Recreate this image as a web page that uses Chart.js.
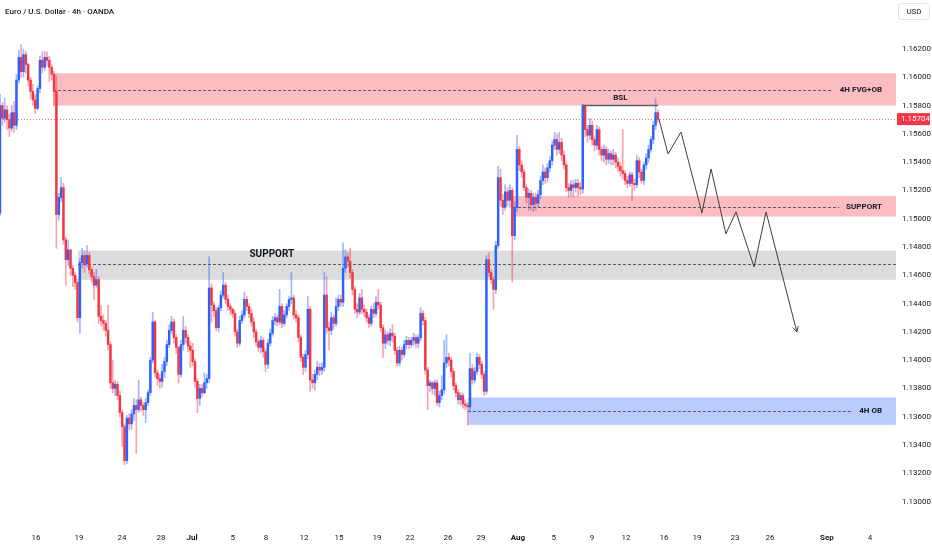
<!DOCTYPE html>
<html>
<head>
<meta charset="utf-8">
<title>EURUSD 4h</title>
<script src="https://cdn.jsdelivr.net/npm/chart.js@4.4.1/dist/chart.umd.min.js"></script>
<style>
    html, body { margin: 0; padding: 0; background: #fff; }
    canvas { display: block; }
</style>
</head>
<body>
<canvas id="chart" width="932" height="550"></canvas>
<script>
// 4h candles, index 0 = first candle on screen
let firstOpen = 1.1504;
let closes = [
    1.1580, 1.1571, 1.1577, 1.1570, 1.1564, 1.1575, 1.1566, 1.1598, 1.1614, 1.1604,
    1.1616, 1.1609, 1.1598, 1.1590, 1.1584, 1.1578, 1.1592, 1.1612, 1.1607, 1.1614,
    1.1612, 1.1607, 1.1602, 1.1590, 1.1503, 1.1515, 1.1522, 1.1485, 1.1471, 1.1478,
    1.1465, 1.1460, 1.1455, 1.1430, 1.1469, 1.1474, 1.1468, 1.1474, 1.1464, 1.1459,
    1.1453, 1.1457, 1.1431, 1.1428, 1.1426, 1.1421, 1.1411, 1.1384, 1.1380, 1.1383,
    1.1375, 1.1363, 1.1353, 1.1329, 1.1359, 1.1355, 1.1362, 1.1368, 1.1365, 1.1372,
    1.1368, 1.1365, 1.1370, 1.1377, 1.1400, 1.1427, 1.1391, 1.1387, 1.1385, 1.1392,
    1.1399, 1.1411, 1.1421, 1.1427, 1.1416, 1.1409, 1.1390, 1.1411, 1.1421, 1.1416,
    1.1410, 1.1407, 1.1399, 1.1385, 1.1373, 1.1380, 1.1377, 1.1384, 1.1387, 1.1451,
    1.1439, 1.1435, 1.1423, 1.1437, 1.1446, 1.1453, 1.1443, 1.1438, 1.1436, 1.1433,
    1.1420, 1.1412, 1.1428, 1.1432, 1.1443, 1.1438, 1.1433, 1.1427, 1.1420, 1.1413,
    1.1409, 1.1414, 1.1406, 1.1397, 1.1412, 1.1419, 1.1428, 1.1430, 1.1427, 1.1438,
    1.1426, 1.1432, 1.1438, 1.1443, 1.1444, 1.1432, 1.1430, 1.1416, 1.1402, 1.1395,
    1.1404, 1.1436, 1.1386, 1.1384, 1.1390, 1.1395, 1.1393, 1.1395, 1.1446, 1.1423,
    1.1421, 1.1430, 1.1426, 1.1438, 1.1443, 1.1441, 1.1465, 1.1473, 1.1470, 1.1462,
    1.1450, 1.1436, 1.1434, 1.1444, 1.1436, 1.1434, 1.1430, 1.1426, 1.1436, 1.1433,
    1.1441, 1.1439, 1.1423, 1.1412, 1.1418, 1.1414, 1.1419, 1.1417, 1.1407, 1.1398,
    1.1407, 1.1404, 1.1411, 1.1414, 1.1411, 1.1414, 1.1416, 1.1412, 1.1416, 1.1433,
    1.1428, 1.1393, 1.1382, 1.1384, 1.1380, 1.1384, 1.1370, 1.1375, 1.1379, 1.1398,
    1.1402, 1.1400, 1.1392, 1.1382, 1.1377, 1.1372, 1.1375, 1.1369, 1.1368, 1.1367,
    1.1394, 1.1386, 1.1392, 1.1402, 1.1397, 1.1390, 1.1378, 1.1471, 1.1462, 1.1457,
    1.1450, 1.1481, 1.1529, 1.1513, 1.1508, 1.1519, 1.1513, 1.1520, 1.1488, 1.1508,
    1.1549, 1.1538, 1.1533, 1.1522, 1.1515, 1.1518, 1.1510, 1.1515, 1.1511, 1.1517,
    1.1527, 1.1533, 1.1529, 1.1536, 1.1541, 1.1552, 1.1556, 1.1549, 1.1554, 1.1545,
    1.1538, 1.1522, 1.1520, 1.1524, 1.1522, 1.1525, 1.1522, 1.1521, 1.1580, 1.1563,
    1.1559, 1.1566, 1.1556, 1.1552, 1.1563, 1.1549, 1.1545, 1.1549, 1.1542, 1.1546,
    1.1542, 1.1545, 1.1540, 1.1537, 1.1534, 1.1532, 1.1527, 1.1525, 1.1531, 1.1525,
    1.1524, 1.1541, 1.1533, 1.1527, 1.1538, 1.1543, 1.1549, 1.1556, 1.1566, 1.1575,
    1.15704
];
let highs = [
    1.1588, 1.1582, 1.1585, 1.1580, 1.1574, 1.1580, 1.1583, 1.1602, 1.1619, 1.1623,
    1.1620, 1.1618, 1.1610, 1.1600, 1.1595, 1.1588, 1.1594, 1.1615, 1.1618, 1.1618,
    1.1618, 1.1615, 1.1609, 1.1604, 1.1601, 1.1518, 1.1529, 1.1525, 1.1487, 1.1485,
    1.1478, 1.1467, 1.1462, 1.1457, 1.1472, 1.1479, 1.1477, 1.1481, 1.1476, 1.1466,
    1.1462, 1.1464, 1.1459, 1.1439, 1.1432, 1.1428, 1.1439, 1.1413, 1.1400, 1.1386,
    1.1385, 1.1378, 1.1365, 1.1355, 1.1361, 1.1362, 1.1365, 1.1373, 1.1372, 1.1386,
    1.1374, 1.1370, 1.1373, 1.1379, 1.1402, 1.1434, 1.1428, 1.1393, 1.1390, 1.1397,
    1.1402, 1.1414, 1.1425, 1.1431, 1.1429, 1.1418, 1.1410, 1.1414, 1.1431, 1.1424,
    1.1418, 1.1413, 1.1412, 1.1401, 1.1387, 1.1383, 1.1383, 1.1391, 1.1390, 1.1473,
    1.1454, 1.1441, 1.1437, 1.1439, 1.1449, 1.1462, 1.1455, 1.1446, 1.1440, 1.1437,
    1.1435, 1.1422, 1.1431, 1.1435, 1.1448, 1.1445, 1.1440, 1.1436, 1.1430, 1.1422,
    1.1415, 1.1417, 1.1416, 1.1408, 1.1415, 1.1422, 1.1431, 1.1433, 1.1432, 1.1450,
    1.1440, 1.1435, 1.1440, 1.1445, 1.1462, 1.1446, 1.1435, 1.1432, 1.1418, 1.1404,
    1.1407, 1.1445, 1.1438, 1.1390, 1.1393, 1.1399, 1.1398, 1.1398, 1.1462, 1.1459,
    1.1427, 1.1434, 1.1432, 1.1444, 1.1446, 1.1446, 1.1483, 1.1478, 1.1476, 1.1479,
    1.1464, 1.1452, 1.1440, 1.1447, 1.1450, 1.1439, 1.1436, 1.1432, 1.1438, 1.1440,
    1.1445, 1.1450, 1.1441, 1.1425, 1.1421, 1.1420, 1.1422, 1.1425, 1.1419, 1.1409,
    1.1410, 1.1409, 1.1414, 1.1417, 1.1416, 1.1416, 1.1419, 1.1418, 1.1418, 1.1437,
    1.1435, 1.1430, 1.1395, 1.1386, 1.1385, 1.1386, 1.1386, 1.1378, 1.1389, 1.1414,
    1.1418, 1.1405, 1.1402, 1.1394, 1.1384, 1.1379, 1.1377, 1.1377, 1.1372, 1.1370,
    1.1405, 1.1397, 1.1395, 1.1405, 1.1404, 1.1399, 1.1392, 1.1474, 1.1476, 1.1464,
    1.1459, 1.1484, 1.1537, 1.1535, 1.1517, 1.1524, 1.1522, 1.1524, 1.1522, 1.1512,
    1.1559, 1.1551, 1.1541, 1.1535, 1.1524, 1.1521, 1.1520, 1.1518, 1.1518, 1.1520,
    1.1530, 1.1538, 1.1536, 1.1539, 1.1544, 1.1555, 1.1561, 1.1560, 1.1561, 1.1557,
    1.1548, 1.1540, 1.1525, 1.1527, 1.1527, 1.1528, 1.1528, 1.1526, 1.1581, 1.1577,
    1.1566, 1.1571, 1.1569, 1.1558, 1.1566, 1.1565, 1.1551, 1.1552, 1.1551, 1.1549,
    1.1548, 1.1549, 1.1547, 1.1543, 1.1540, 1.1563, 1.1534, 1.1530, 1.1533, 1.1533,
    1.1528, 1.1545, 1.1543, 1.1535, 1.1540, 1.1546, 1.1552, 1.1558, 1.1569, 1.1585,
    1.1577
];
let lows = [
    1.1502, 1.1566, 1.1568, 1.1563, 1.1558, 1.1562, 1.1561, 1.1563, 1.1596, 1.1600,
    1.1600, 1.1603, 1.1594, 1.1585, 1.1580, 1.1574, 1.1577, 1.1589, 1.1603, 1.1605,
    1.1608, 1.1597, 1.1598, 1.1580, 1.1479, 1.1499, 1.1512, 1.1482, 1.1453, 1.1467,
    1.1460, 1.1452, 1.1450, 1.1427, 1.1419, 1.1465, 1.1462, 1.1466, 1.1461, 1.1455,
    1.1443, 1.1451, 1.1426, 1.1424, 1.1421, 1.1417, 1.1407, 1.1380, 1.1377, 1.1375,
    1.1372, 1.1360, 1.1339, 1.1326, 1.1327, 1.1351, 1.1351, 1.1357, 1.1334, 1.1363,
    1.1364, 1.1361, 1.1356, 1.1368, 1.1375, 1.1398, 1.1388, 1.1382, 1.1380, 1.1381,
    1.1388, 1.1396, 1.1409, 1.1419, 1.1412, 1.1405, 1.1384, 1.1388, 1.1407, 1.1412,
    1.1406, 1.1395, 1.1396, 1.1381, 1.1363, 1.1368, 1.1374, 1.1376, 1.1380, 1.1384,
    1.1427, 1.1431, 1.1421, 1.1420, 1.1435, 1.1444, 1.1440, 1.1435, 1.1432, 1.1430,
    1.1417, 1.1409, 1.1410, 1.1426, 1.1430, 1.1435, 1.1430, 1.1424, 1.1416, 1.1410,
    1.1406, 1.1405, 1.1402, 1.1392, 1.1394, 1.1410, 1.1417, 1.1425, 1.1424, 1.1425,
    1.1423, 1.1424, 1.1430, 1.1435, 1.1440, 1.1429, 1.1427, 1.1413, 1.1399, 1.1390,
    1.1392, 1.1401, 1.1378, 1.1380, 1.1379, 1.1386, 1.1389, 1.1390, 1.1392, 1.1419,
    1.1407, 1.1418, 1.1422, 1.1424, 1.1435, 1.1438, 1.1438, 1.1462, 1.1466, 1.1458,
    1.1446, 1.1433, 1.1430, 1.1432, 1.1433, 1.1431, 1.1427, 1.1423, 1.1424, 1.1430,
    1.1431, 1.1436, 1.1420, 1.1402, 1.1408, 1.1411, 1.1410, 1.1413, 1.1404, 1.1396,
    1.1396, 1.1400, 1.1402, 1.1408, 1.1408, 1.1409, 1.1410, 1.1409, 1.1409, 1.1414,
    1.1425, 1.1390, 1.1365, 1.1378, 1.1376, 1.1375, 1.1368, 1.1367, 1.1372, 1.1376,
    1.1395, 1.1396, 1.1388, 1.1379, 1.1374, 1.1369, 1.1368, 1.1366, 1.1365, 1.1354,
    1.1364, 1.1383, 1.1384, 1.1390, 1.1394, 1.1387, 1.1375, 1.1376, 1.1459, 1.1454,
    1.1436, 1.1447, 1.1479, 1.1509, 1.1503, 1.1506, 1.1509, 1.1508, 1.1455, 1.1485,
    1.1505, 1.1534, 1.1529, 1.1520, 1.1511, 1.1506, 1.1506, 1.1505, 1.1506, 1.1508,
    1.1514, 1.1524, 1.1525, 1.1526, 1.1533, 1.1538, 1.1549, 1.1545, 1.1546, 1.1541,
    1.1535, 1.1519, 1.1515, 1.1516, 1.1515, 1.1519, 1.1516, 1.1517, 1.1518, 1.1558,
    1.1554, 1.1556, 1.1552, 1.1548, 1.1549, 1.1545, 1.1541, 1.1540, 1.1538, 1.1539,
    1.1538, 1.1538, 1.1536, 1.1533, 1.1530, 1.1528, 1.1524, 1.1522, 1.1523, 1.1513,
    1.1520, 1.1522, 1.1529, 1.1525, 1.1524, 1.1535, 1.1540, 1.1547, 1.1553, 1.1563,
    1.1568
];

// axis ticks (x in candle slots)
let xTickPos = [15.3, 33.6, 51.9, 68.5, 81.7, 99.1, 113.2, 129.4, 144.3, 160.4, 174.5, 190.6,
    204.7, 220.4, 235.7, 251.9, 266.4, 282.6, 296.6, 312.8, 327.7, 351.9, 370.2];
let xTickLabels = ['16', '19', '24', '28', 'Jul', '5', '8', '12', '15', '19', '22', '26',
    '29', 'Aug', '5', '9', '12', '16', '19', '23', '26', 'Sep', '4'];
let monthLabels = ['Jul', 'Aug', 'Sep'];
let yTicks = [1.130, 1.132, 1.134, 1.136, 1.138, 1.140, 1.142, 1.144, 1.146, 1.148,
    1.150, 1.152, 1.154, 1.156, 1.158, 1.160, 1.162];

// drawn zones
let zoneNames = ['4H FVG+OB', 'SUPPORT', 'SUPPORT', '4H OB'];
let zoneStart = [22.6, 218.3, 33.2, 199.1];
let zoneTop = [1.16028, 1.15161, 1.14775, 1.13736];
let zoneBottom = [1.1580, 1.15015, 1.14568, 1.13543];
let zoneMid = [1.1591, 1.15086, 1.14679, 1.1364];

// buy side liquidity line
let bslStart = 248;
let bslEnd = 280;
let bslPrice = 1.1580;
let lastPrice = 1.15704;

// projected path
let projX = [280.4, 284.3, 289.8, 298.7, 302.6, 308.9, 313.2, 320.9, 326, 339.1];
let projY = [1.15705, 1.15458, 1.15613, 1.15041, 1.15352, 1.14893, 1.15048, 1.14659, 1.15048, 1.14200];

const upColor = '#2962ff';
const downColor = '#f23645';
const upWick = 'rgba(41, 98, 255, 0.45)';
const downWick = 'rgba(242, 54, 69, 0.45)';
const textColor = '#131722';
const font = 'Roboto, "Liberation Sans", sans-serif';

const zoneStyle = [
    { fill: 'rgba(242, 54, 69, 0.33)', label: 'right' },
    { fill: 'rgba(242, 54, 69, 0.33)', label: 'right' },
    { fill: 'rgba(150, 150, 150, 0.33)', label: 'center', at: 115.7 },
    { fill: 'rgba(41, 98, 255, 0.33)', label: 'right' }
];

let opens = closes.map((c, i) => i === 0 ? firstOpen : closes[i - 1]);
let isUp = closes.map((c, i) => c >= opens[i]);

let bodyData = closes.map((c, i) => ({ x: i, y: [opens[i], c] }));
let wickData = closes.map((c, i) => ({ x: i, y: [lows[i], highs[i]] }));
let pathData = projX.map((x, i) => ({ x: x, y: projY[i] }));

function labelText(ctx, text, x, y, size, weight, align, color) {
    ctx.font = weight + ' ' + size + 'px ' + font;
    ctx.fillStyle = color || textColor;
    ctx.textAlign = align;
    ctx.textBaseline = 'middle';
    ctx.fillText(text, x, y);
    return ctx.measureText(text).width;
}

// no label overhang padding, chart area fills 0..896 x 0..524
function noPadding(s) {
    s.paddingTop = 0;
    s.paddingBottom = 0;
    s.paddingLeft = 0;
    s.paddingRight = 0;
}

const overlays = {
    id: 'overlays',
    beforeDatasetsDraw(chart) {
        const { ctx, chartArea: a, scales: { x, y } } = chart;
        ctx.save();
        ctx.beginPath();
        ctx.rect(a.left, a.top, a.width, a.height);
        ctx.clip();

        zoneNames.forEach((name, k) => {
            let st = zoneStyle[k];
            let x0 = x.getPixelForValue(zoneStart[k]);
            let y0 = y.getPixelForValue(zoneTop[k]);
            let y1 = y.getPixelForValue(zoneBottom[k]);
            ctx.fillStyle = st.fill;
            ctx.fillRect(x0, y0, a.right - x0, y1 - y0);

            let ym = Math.round(y.getPixelForValue(zoneMid[k])) + 0.5;
            let xEnd = a.right;
            if (st.label === 'right') {
                ctx.font = 'bold 8px ' + font;
                xEnd = a.right - 14 - ctx.measureText(name).width - 7;
            }
            ctx.setLineDash([3, 2]);
            ctx.strokeStyle = '#555a66';
            ctx.lineWidth = 1;
            ctx.beginPath();
            ctx.moveTo(x0, ym);
            ctx.lineTo(xEnd, ym);
            ctx.stroke();
        });

        // last price
        let yl = Math.round(y.getPixelForValue(lastPrice)) + 0.5;
        ctx.setLineDash([1, 2]);
        ctx.strokeStyle = 'rgba(242, 54, 69, 0.7)';
        ctx.beginPath();
        ctx.moveTo(a.left, yl);
        ctx.lineTo(a.right, yl);
        ctx.stroke();
        ctx.restore();
    },
    afterDatasetsDraw(chart) {
        const { ctx, chartArea: a, scales: { x, y } } = chart;
        ctx.save();

        zoneNames.forEach((name, k) => {
            let st = zoneStyle[k];
            if (st.label === 'right') {
                labelText(ctx, name, a.right - 14, y.getPixelForValue(zoneMid[k]), 8, 'bold', 'right');
            } else {
                labelText(ctx, name, x.getPixelForValue(st.at), y.getPixelForValue(zoneTop[k]) + 4, 10, 'bold', 'center');
            }
        });

        // BSL
        let yb = y.getPixelForValue(bslPrice);
        ctx.strokeStyle = '#5d606b';
        ctx.lineWidth = 1.5;
        ctx.beginPath();
        ctx.moveTo(x.getPixelForValue(bslStart), yb);
        ctx.lineTo(x.getPixelForValue(bslEnd), yb);
        ctx.stroke();
        labelText(ctx, 'BSL', x.getPixelForValue((bslStart + bslEnd) / 2), yb - 8, 8, 'bold', 'center');

        // arrow head on the projection
        let n = projX.length;
        let px = x.getPixelForValue(projX[n - 1]), py = y.getPixelForValue(projY[n - 1]);
        let qx = x.getPixelForValue(projX[n - 2]), qy = y.getPixelForValue(projY[n - 2]);
        let ang = Math.atan2(py - qy, px - qx);
        ctx.strokeStyle = '#3c3f47';
        ctx.lineWidth = 1;
        ctx.beginPath();
        ctx.moveTo(px - 6 * Math.cos(ang - 0.5), py - 6 * Math.sin(ang - 0.5));
        ctx.lineTo(px, py);
        ctx.lineTo(px - 6 * Math.cos(ang + 0.5), py - 6 * Math.sin(ang + 0.5));
        ctx.stroke();

        labelText(ctx, 'Euro / U.S. Dollar \u00b7 4h \u00b7 OANDA', 5, 12, 8, '500', 'left');
        ctx.restore();
    },
    afterDraw(chart) {
        const { ctx, chartArea: a, scales: { y } } = chart;
        ctx.save();
        let yl = y.getPixelForValue(lastPrice);
        ctx.fillStyle = downColor;
        ctx.fillRect(a.right + 1, yl - 6, 932 - a.right - 3, 12);
        labelText(ctx, lastPrice.toFixed(5), a.right + 5, yl, 8, 'normal', 'left', '#fff');

        ctx.strokeStyle = '#e0e3eb';
        ctx.lineWidth = 1;
        ctx.beginPath();
        ctx.roundRect(a.right + 2.5, 3.5, 31, 16, 3);
        ctx.stroke();
        labelText(ctx, 'USD', a.right + 18, 12, 8, 'normal', 'center');
        ctx.restore();
    }
};

let chart = new Chart(document.getElementById('chart').getContext('2d'), {
    type: 'bar',
    data: {
        datasets: [{
            label: 'body',
            data: bodyData,
            order: 1,
            grouped: false,
            barThickness: 1.8,
            minBarLength: 1,
            borderWidth: 0,
            backgroundColor: isUp.map(u => u ? upColor : downColor)
        }, {
            label: 'wick',
            data: wickData,
            order: 2,
            grouped: false,
            barThickness: 1,
            borderWidth: 0,
            backgroundColor: isUp.map(u => u ? upWick : downWick)
        }, {
            type: 'line',
            label: 'path',
            data: pathData,
            order: 0,
            borderColor: '#3c3f47',
            borderWidth: 1,
            pointRadius: 0,
            tension: 0
        }]
    },
    options: {
        responsive: false,
        animation: false,
        layout: { padding: 0 },
        plugins: {
            legend: { display: false },
            tooltip: { enabled: false }
        },
        scales: {
            x: {
                type: 'linear',
                offset: false,
                min: 0,
                max: 381.3,
                grid: { display: false, drawTicks: false },
                border: { display: false },
                afterBuildTicks: s => { s.ticks = xTickPos.map(v => ({ value: v })); },
                afterFit: s => { s.height = 26; noPadding(s); },
                ticks: {
                    autoSkip: false,
                    maxRotation: 0,
                    padding: 9,
                    color: textColor,
                    font: c => ({ family: font, size: 8, weight: c.tick && monthLabels.includes(xTickLabels[c.index]) ? 'bold' : 'normal' }),
                    callback: (v, i) => xTickLabels[i]
                }
            },
            y: {
                position: 'right',
                min: 1.12842,
                max: 1.16546,
                grid: { display: false, drawTicks: false },
                border: { display: false },
                afterBuildTicks: s => { s.ticks = yTicks.map(v => ({ value: v })); },
                afterFit: s => { s.width = 36; noPadding(s); },
                ticks: {
                    padding: 6,
                    color: textColor,
                    font: { family: font, size: 8 },
                    callback: v => v.toFixed(5)
                }
            }
        }
    },
    plugins: [overlays]
});
</script>
</body>
</html>
